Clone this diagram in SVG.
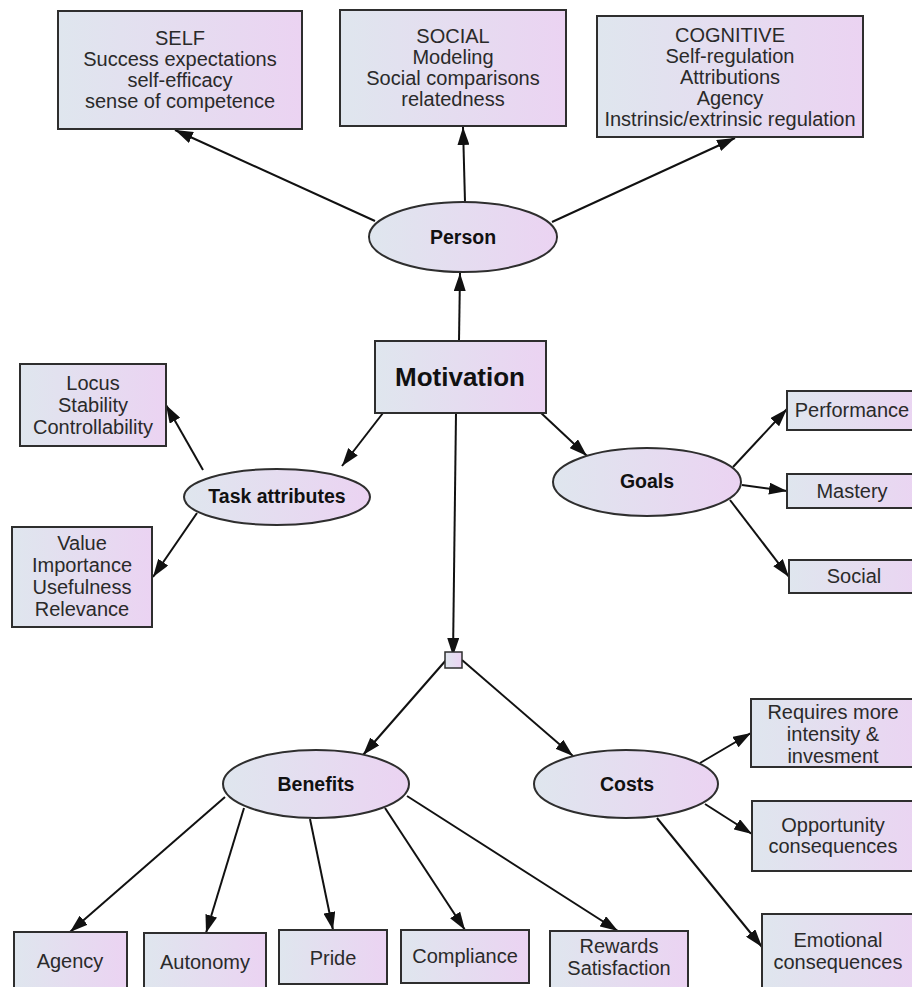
<svg xmlns="http://www.w3.org/2000/svg" width="912" height="987" viewBox="0 0 912 987">
<defs>
<linearGradient id="g" x1="0" y1="0" x2="1" y2="0">
<stop offset="0" stop-color="#dfe6ee"/>
<stop offset="1" stop-color="#ebd3f2"/>
</linearGradient>
<marker id="a" viewBox="0 0 18 12" refX="18" refY="6" markerWidth="18" markerHeight="12" orient="auto" markerUnits="userSpaceOnUse">
<path d="M0,0 L18,6 L0,12 z" fill="#111"/>
</marker>
</defs>
<style>
.n{fill:url(#g);stroke:#2e2e2e;stroke-width:2}
.t{font-family:"Liberation Sans",Arial,sans-serif;font-size:20px;fill:#2a2a2a;text-anchor:middle}
.b{font-family:"Liberation Sans",Arial,sans-serif;font-size:19.5px;font-weight:bold;fill:#111;text-anchor:middle}
.c line{stroke:#111;stroke-width:2;marker-end:url(#a)}
</style>
<rect width="912" height="987" fill="#fff"/>
<g class="c" id="connectors">
<line x1="459" y1="341" x2="460" y2="273"/>
<line x1="375" y1="221" x2="175" y2="130"/>
<line x1="465" y1="202" x2="463" y2="127"/>
<line x1="552" y1="222" x2="735" y2="138"/>
<line x1="383" y1="413" x2="342" y2="466"/>
<line x1="540" y1="412" x2="587" y2="456"/>
<line x1="203" y1="470" x2="166" y2="405"/>
<line x1="197" y1="513" x2="153" y2="577"/>
<line x1="733" y1="467" x2="787" y2="409"/>
<line x1="742" y1="485" x2="787" y2="491"/>
<line x1="730" y1="500" x2="789" y2="577"/>
<line x1="456" y1="413" x2="453" y2="656"/>
<line x1="447" y1="659" x2="363" y2="755"/>
<line x1="462" y1="660" x2="573" y2="756"/>
<line x1="700" y1="763" x2="751" y2="733"/>
<line x1="705" y1="804" x2="752" y2="834"/>
<line x1="657" y1="818" x2="762" y2="947"/>
<line x1="225" y1="797" x2="70" y2="932"/>
<line x1="244" y1="808" x2="206" y2="933"/>
<line x1="310" y1="819" x2="333" y2="930"/>
<line x1="385" y1="808" x2="465" y2="930"/>
<line x1="407" y1="796" x2="618" y2="931"/>
</g>
<g id="self"><rect class="n" x="58" y="11" width="244" height="118"/>
<text class="t" x="180" y="45">SELF</text><text class="t" x="180" y="66">Success expectations</text><text class="t" x="180" y="87">self-efficacy</text><text class="t" x="180" y="108">sense of competence</text></g>
<g id="social"><rect class="n" x="340" y="10" width="226" height="116"/>
<text class="t" x="453" y="43">SOCIAL</text><text class="t" x="453" y="64">Modeling</text><text class="t" x="453" y="85">Social comparisons</text><text class="t" x="453" y="106">relatedness</text></g>
<g id="cognitive"><rect class="n" x="597" y="16" width="266" height="121"/>
<text class="t" x="730" y="42">COGNITIVE</text><text class="t" x="730" y="63">Self-regulation</text><text class="t" x="730" y="84">Attributions</text><text class="t" x="730" y="105">Agency</text><text class="t" x="730" y="126">Instrinsic/extrinsic regulation</text></g>
<g id="person"><ellipse class="n" cx="463" cy="237" rx="94" ry="35"/><text class="b" x="463" y="244">Person</text></g>
<g id="motivation"><rect class="n" x="375" y="341" width="171" height="72"/><text class="b" x="460" y="386" style="font-size:26px">Motivation</text></g>
<g id="task"><ellipse class="n" cx="277" cy="497" rx="93" ry="28"/><text class="b" x="277" y="503">Task attributes</text></g>
<g id="locus"><rect class="n" x="20" y="364" width="146" height="82"/>
<text class="t" x="93" y="390">Locus</text><text class="t" x="93" y="412">Stability</text><text class="t" x="93" y="434">Controllability</text></g>
<g id="value"><rect class="n" x="12" y="527" width="140" height="100"/>
<text class="t" x="82" y="550">Value</text><text class="t" x="82" y="572">Importance</text><text class="t" x="82" y="594">Usefulness</text><text class="t" x="82" y="616">Relevance</text></g>
<g id="goals"><ellipse class="n" cx="647" cy="482" rx="94" ry="34"/><text class="b" x="647" y="488">Goals</text></g>
<g id="performance"><rect class="n" x="787" y="391" width="140" height="39"/><text class="t" x="852" y="417">Performance</text></g>
<g id="mastery"><rect class="n" x="787" y="474" width="140" height="34"/><text class="t" x="852" y="498">Mastery</text></g>
<g id="socialgoal"><rect class="n" x="789" y="560" width="140" height="33"/><text class="t" x="854" y="583">Social</text></g>
<g id="junction"><rect class="n" x="445" y="652" width="17" height="16" style="stroke-width:1.5"/></g>
<g id="benefits"><ellipse class="n" cx="316" cy="784" rx="93" ry="34"/><text class="b" x="316" y="791">Benefits</text></g>
<g id="costs"><ellipse class="n" cx="626" cy="784" rx="92" ry="34"/><text class="b" x="627" y="791">Costs</text></g>
<g id="requires"><rect class="n" x="751" y="699" width="175" height="68"/>
<text class="t" x="833" y="719">Requires more</text><text class="t" x="833" y="741">intensity &amp;</text><text class="t" x="833" y="763">invesment</text></g>
<g id="opportunity"><rect class="n" x="752" y="801" width="175" height="70"/>
<text class="t" x="833" y="832">Opportunity</text><text class="t" x="833" y="853">consequences</text></g>
<g id="emotional"><rect class="n" x="762" y="914" width="165" height="80"/>
<text class="t" x="838" y="947">Emotional</text><text class="t" x="838" y="969">consequences</text></g>
<g id="agency"><rect class="n" x="14" y="932" width="113" height="60"/><text class="t" x="70" y="968">Agency</text></g>
<g id="autonomy"><rect class="n" x="144" y="933" width="122" height="59"/><text class="t" x="205" y="969">Autonomy</text></g>
<g id="pride"><rect class="n" x="279" y="930" width="108" height="54"/><text class="t" x="333" y="965">Pride</text></g>
<g id="compliance"><rect class="n" x="401" y="930" width="128" height="53"/><text class="t" x="465" y="963">Compliance</text></g>
<g id="rewards"><rect class="n" x="550" y="931" width="138" height="61"/>
<text class="t" x="619" y="953">Rewards</text><text class="t" x="619" y="975">Satisfaction</text></g>
</svg>
